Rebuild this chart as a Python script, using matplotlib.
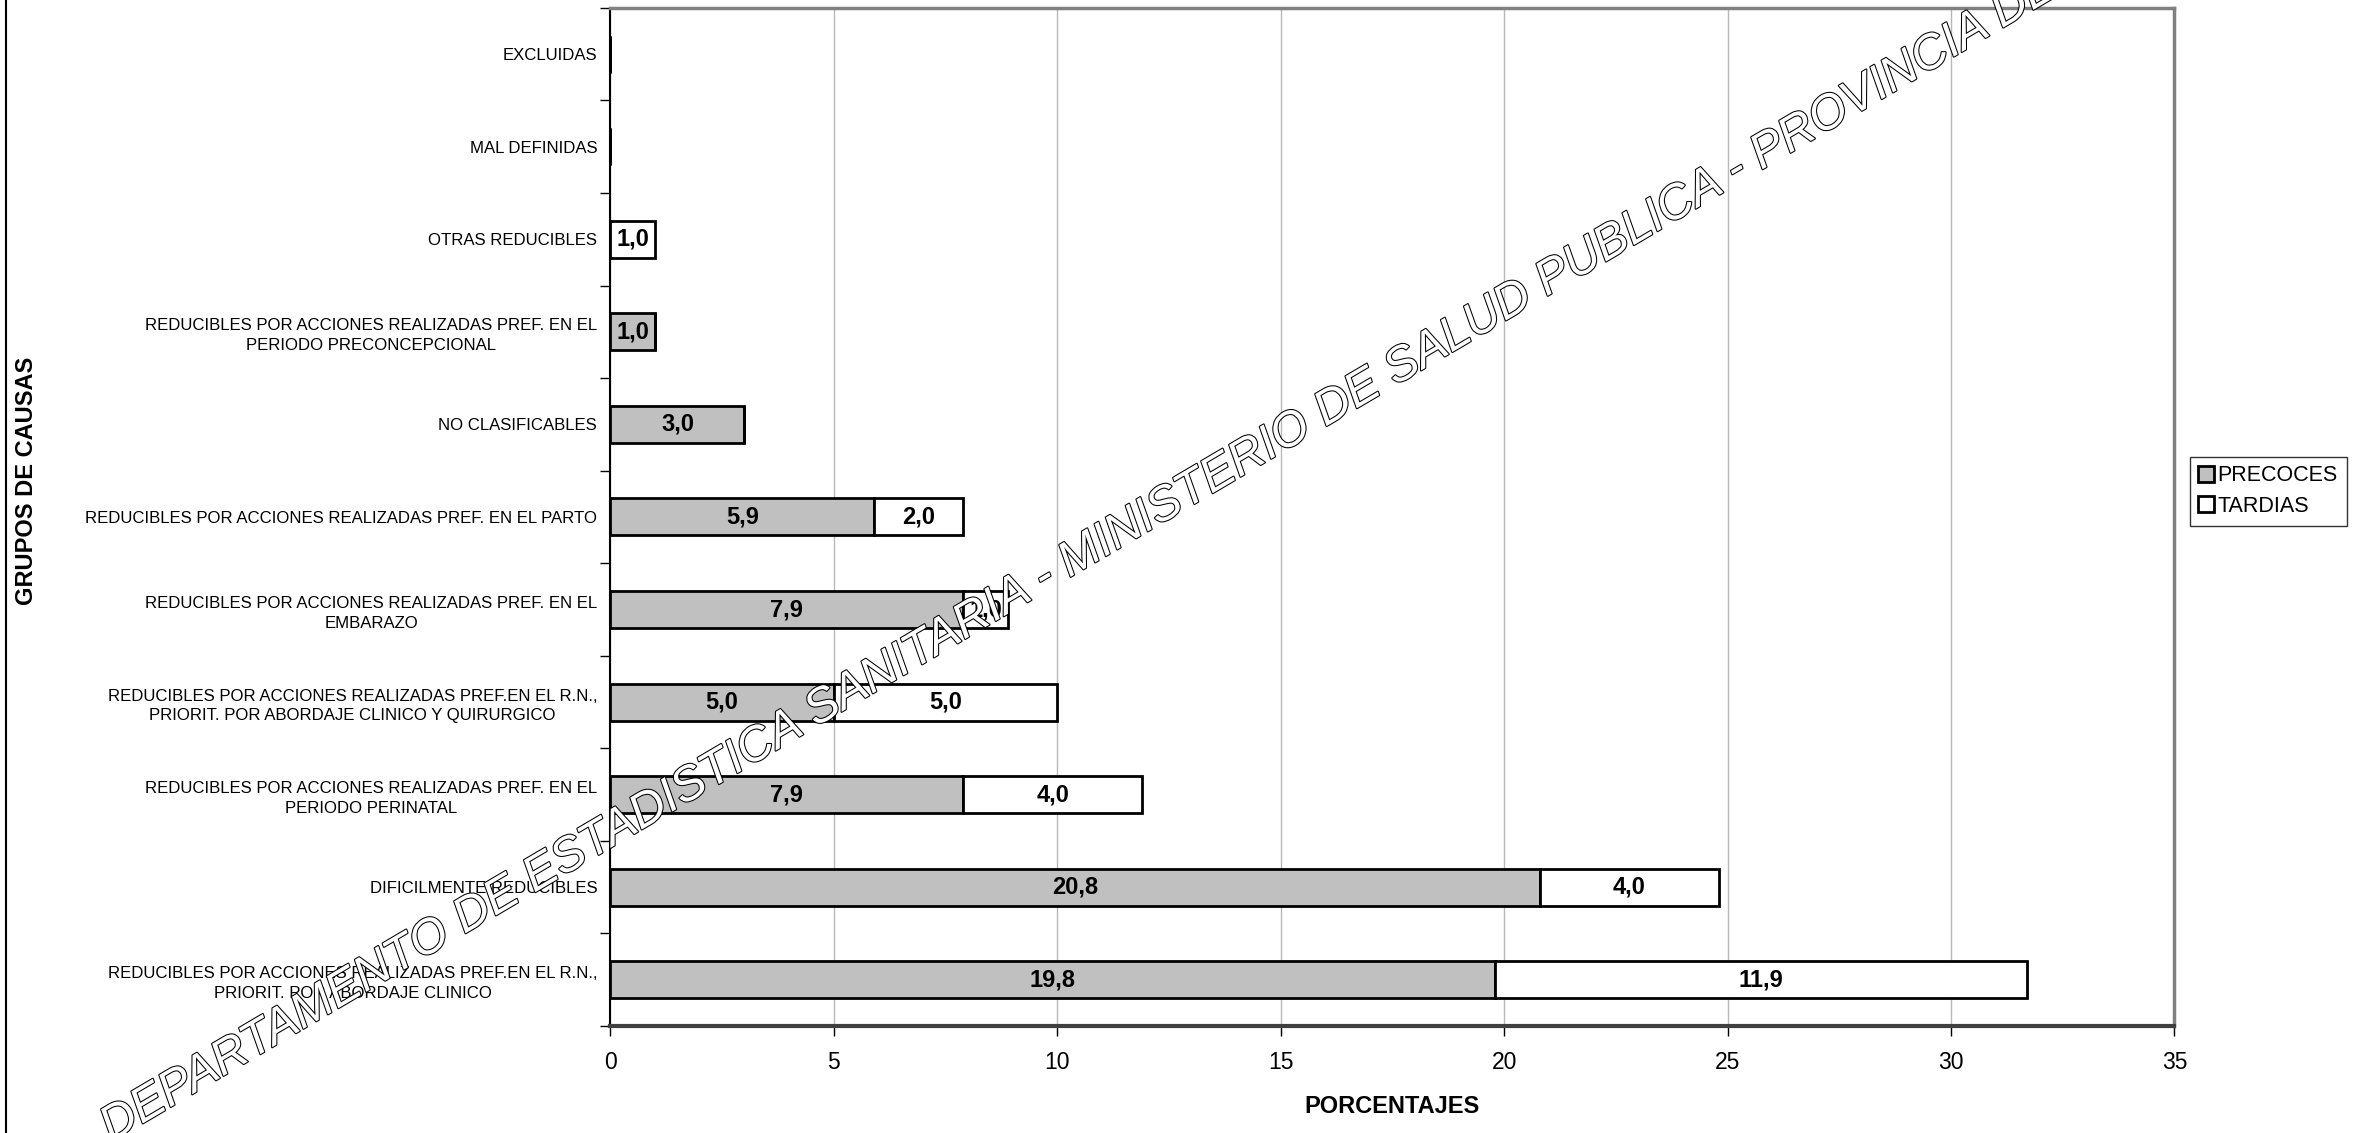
import numpy as np
import matplotlib
matplotlib.use("Agg")
import matplotlib.pyplot as plt
import matplotlib.patheffects as pe
from matplotlib.lines import Line2D

plt.rcParams['font.family'] = ['Liberation Sans', 'DejaVu Sans']

# categories listed top to bottom
causas = [
    "EXCLUIDAS",
    "MAL DEFINIDAS",
    "OTRAS REDUCIBLES",
    "REDUCIBLES POR ACCIONES REALIZADAS PREF. EN EL\nPERIODO PRECONCEPCIONAL",
    "NO CLASIFICABLES",
    "REDUCIBLES POR ACCIONES REALIZADAS PREF. EN EL PARTO",
    "REDUCIBLES POR ACCIONES REALIZADAS PREF. EN EL\nEMBARAZO",
    "REDUCIBLES POR ACCIONES REALIZADAS PREF.EN EL R.N.,\nPRIORIT. POR ABORDAJE CLINICO Y QUIRURGICO",
    "REDUCIBLES POR ACCIONES REALIZADAS PREF. EN EL\nPERIODO PERINATAL",
    "DIFICILMENTE REDUCIBLES",
    "REDUCIBLES POR ACCIONES REALIZADAS PREF.EN EL R.N.,\nPRIORIT. POR ABORDAJE CLINICO",
]
precoces = [0, 0, 0, 1.0, 3.0, 5.9, 7.9, 5.0, 7.9, 20.8, 19.8]
tardias = [0, 0, 1.0, 0, 0, 2.0, 1.0, 5.0, 4.0, 4.0, 11.9]
xticks = [0, 5, 10, 15, 20, 25, 30, 35]

fig = plt.figure(figsize=(23.66, 11.33), dpi=100)
ax = fig.add_axes([0.258, 0.0944, 0.661, 0.8986])

y = np.arange(len(causas))
pre = np.array(precoces)
tar = np.array(tardias)

ax.barh(y, pre, height=0.4, color='#c0c0c0', edgecolor='black', linewidth=2, zorder=3)
ax.barh(y, tar, left=pre, height=0.4, color='white', edgecolor='black', linewidth=2, zorder=3)

def fmt(v):
    return ("%.1f" % v).replace('.', ',')

for i in range(len(causas)):
    if pre[i] > 0:
        ax.text(pre[i] / 2, y[i], fmt(pre[i]), ha='center', va='center',
                fontsize=17, fontweight='bold', zorder=4)
    if tar[i] > 0:
        ax.text(pre[i] + tar[i] / 2, y[i], fmt(tar[i]), ha='center', va='center',
                fontsize=17, fontweight='bold', zorder=4)

ax.set_ylim(len(causas) - 0.5, -0.5)
ax.set_xlim(0, 35)
ax.set_xticks(xticks)
ax.set_xticklabels([str(t) for t in xticks], fontsize=16.5)
ax.tick_params(axis='x', direction='out', length=7, width=1, pad=11)

# boundary ticks without labels, centred labels without ticks
ax.set_yticks(np.arange(-0.5, len(causas), 1.0))
ax.set_yticklabels([])
ax.tick_params(axis='y', which='major', direction='out', length=7, width=1)
ax.set_yticks(y, minor=True)
ax.set_yticklabels(causas, minor=True, fontsize=12.1, multialignment='center',
                   linespacing=1.4)
ax.tick_params(axis='y', which='minor', length=0, pad=9.5)

ax.grid(axis='x', color='#b8b8b8', linewidth=1, zorder=0)
ax.set_axisbelow(True)

for s in ['top', 'right']:
    ax.spines[s].set_color('#808080')
    ax.spines[s].set_linewidth(2.5)
ax.spines['left'].set_color('black')
ax.spines['left'].set_linewidth(1.5)
ax.spines['bottom'].set_color('#404040')
ax.spines['bottom'].set_linewidth(3)

ax.set_xlabel("PORCENTAJES", fontsize=17, fontweight='bold', labelpad=15)
fig.text(0.011, 0.576, "GRUPOS DE CAUSAS", rotation=90, ha='center', va='center',
         fontsize=17, fontweight='bold')

handles = [
    Line2D([], [], marker='s', linestyle='none', markersize=11, markerfacecolor='#c0c0c0',
           markeredgecolor='black', markeredgewidth=2),
    Line2D([], [], marker='s', linestyle='none', markersize=11, markerfacecolor='white',
           markeredgecolor='black', markeredgewidth=2),
]
leg = fig.legend(handles, ["PRECOCES", "TARDIAS"], loc='upper left',
                 bbox_to_anchor=(0.9255, 0.597), fontsize=15.5, frameon=True,
                 fancybox=False, handlelength=0.7, handletextpad=0.2,
                 borderpad=0.4, labelspacing=0.45, borderaxespad=0)
leg.get_frame().set_edgecolor('black')
leg.get_frame().set_linewidth(1)

# chart area border (left edge visible)
fig.add_artist(Line2D([0.0025, 0.0025], [0, 1], color='black', linewidth=1.5,
                      transform=fig.transFigure))

# watermark
fig.text(0.047, -0.008,
         "DEPARTAMENTO DE ESTADISTICA SANITARIA - MINISTERIO DE SALUD PUBLICA - PROVINCIA DE TUCUMAN",
         rotation=30.5, rotation_mode='anchor', ha='left', va='baseline',
         fontsize=35, fontstyle='italic', color='white', zorder=10,
         path_effects=[pe.withStroke(linewidth=1.5, foreground='black')])

fig.savefig("out.png", dpi=100)
